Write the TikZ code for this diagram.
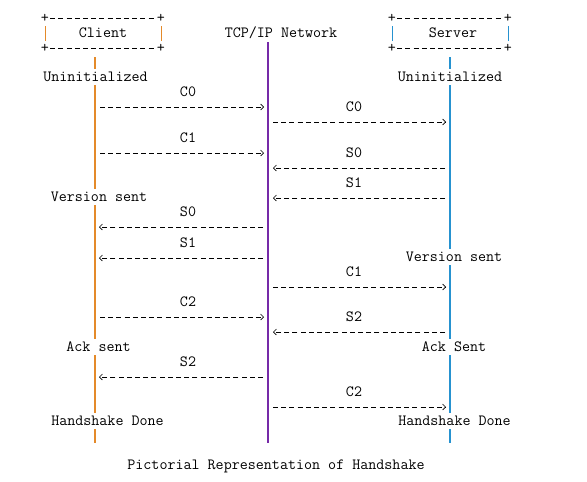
\documentclass[tikz,border=0pt]{standalone}
\usetikzlibrary{arrows.meta}
\definecolor{clientline}{RGB}{228,138,42}
\definecolor{netline}{RGB}{118,42,168}
\definecolor{serverline}{RGB}{38,146,208}

\begin{document}
\begin{tikzpicture}[x=1pt,y=-1pt,
  every node/.style={font=\fontsize{15.6}{17}\ttfamily, inner sep=1pt},
  msg/.style={dash pattern=on 5pt off 3.2pt, line width=0.6pt,
    -{Straight Barb[length=3pt,width=6pt]}},
  state/.style={fill=white, inner ysep=3pt},
  life/.style={line width=1.1pt}]
  \useasboundingbox (0,0) rectangle (587,482);
  % the two boxes on top
  \node (client) at (103,33) {Client};
  \node (ctl) at (45,18) {+};
  \node (ctr) at (161,18) {+};
  \node (cbl) at (45,48) {+};
  \node (cbr) at (161,48) {+};
  \draw[dash pattern=on 5pt off 3.2pt] (ctl) -- (ctr) (cbl) -- (cbr);
  \draw[clientline, line width=1pt] (45,26) -- (45,41) (161,26) -- (161,41);
  \node (server) at (453,33) {Server};
  \node (stl) at (392,18) {+};
  \node (str) at (508,18) {+};
  \node (sbl) at (392,48) {+};
  \node (sbr) at (508,48) {+};
  \draw[dash pattern=on 5pt off 3.2pt] (stl) -- (str) (sbl) -- (sbr);
  \draw[serverline, line width=1pt] (392,26) -- (392,41) (508,26) -- (508,41);
  \node (network) at (281,33) {TCP/IP Network};
  % lifelines
  \draw[life, clientline] (95,57) -- (95,443);
  \draw[life, netline] (268,42) -- (268,443);
  \draw[life, serverline] (450,57) -- (450,443);
  % states
  \node[state] (cuninit) at (95.5,77) {Uninitialized};
  \node[state] (suninit) at (450,77) {Uninitialized};
  \node[state] (cversion) at (99,197) {Version sent};
  \node[state] (sversion) at (454,257) {Version sent};
  \node[state] (cack) at (98.5,347) {Ack sent};
  \node[state] (sack) at (454,347) {Ack Sent};
  \node[state] (cdone) at (107.5,421) {Handshake Done};
  \node[state] (sdone) at (454.5,421) {Handshake Done};
  % messages client -> network
  \foreach \n/\y/\t in {a/107/C0, b/153/C1, c/317/C2} {
    \node (cn\n) at (188,\y-15) {\t};
    \coordinate (cnfrom\n) at (100,\y);
    \coordinate (cnto\n) at (264,\y);
    \draw[msg] (cnfrom\n) -- (cnto\n);
  }
  % messages network -> server
  \foreach \n/\y/\t in {a/122/C0, b/287/C1, c/407/C2} {
    \node (ns\n) at (354,\y-15) {\t};
    \coordinate (nsfrom\n) at (273,\y);
    \coordinate (nsto\n) at (446,\y);
    \draw[msg] (nsfrom\n) -- (nsto\n);
  }
  % messages server -> network
  \foreach \n/\y/\t in {a/168/S0, b/198/S1, c/332/S2} {
    \node (sn\n) at (354,\y-15) {\t};
    \coordinate (snfrom\n) at (445,\y);
    \coordinate (snto\n) at (273,\y);
    \draw[msg] (snfrom\n) -- (snto\n);
  }
  % messages network -> client
  \foreach \n/\y/\t in {a/227/S0, b/258/S1, c/377/S2} {
    \node (nc\n) at (188,\y-15) {\t};
    \coordinate (ncfrom\n) at (263,\y);
    \coordinate (ncto\n) at (99,\y);
    \draw[msg] (ncfrom\n) -- (ncto\n);
  }
  \node (caption) at (276,466) {Pictorial Representation of Handshake};
\end{tikzpicture}
\end{document}
